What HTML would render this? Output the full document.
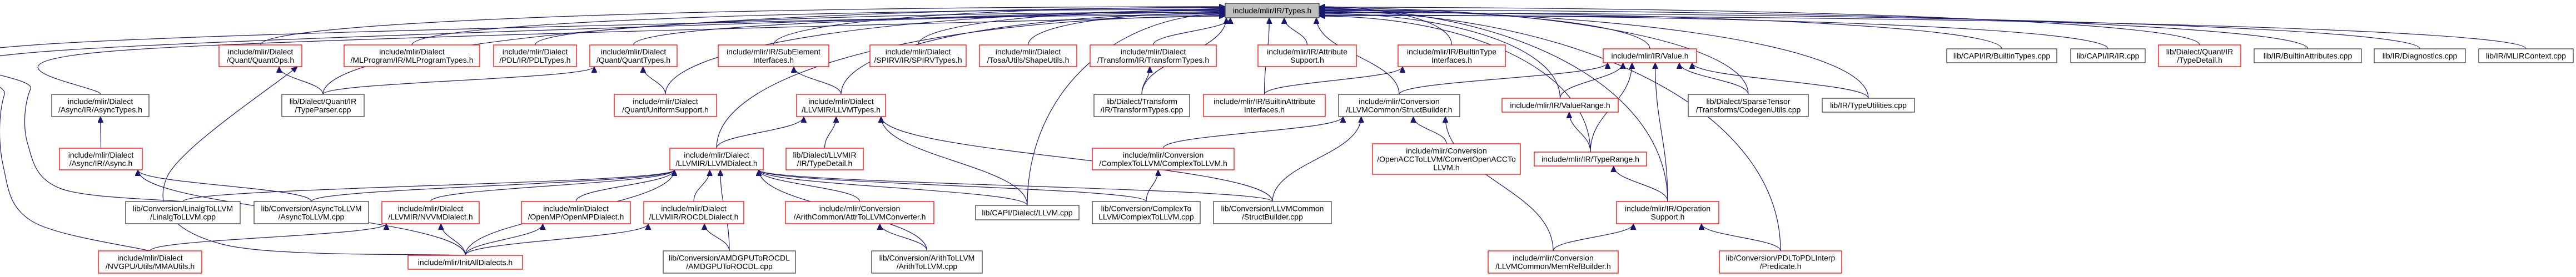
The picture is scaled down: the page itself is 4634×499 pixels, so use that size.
<!DOCTYPE html>
<html><head><meta charset="utf-8"><style>
html,body{margin:0;padding:0;background:#fff;}
svg{display:block;}
text{font-family:"Liberation Sans",sans-serif;font-size:14px;fill:#000;}
</style></head><body>
<svg id="g" width="4634" height="499" viewBox="0 0 4634 499" xmlns="http://www.w3.org/2000/svg">
<defs><marker id="ah" markerUnits="userSpaceOnUse" markerWidth="12" markerHeight="10" refX="11" refY="5" orient="auto"><path d="M0,0 L11,5 L0,10 z" fill="#191970" stroke="#191970"/></marker></defs>
<g id="edges"></g>
<g id="nodes"></g>
</svg>
<script>
// node: id, label lines, x1, y1, x2, y2, kind (r=red, k=black, g=root)
const nodeIds = ["root","quantops","mlprog","pdl","quanttypes","subel","spirv","shape","transT","attrsup","btypeif","value","capibt","capiir","qtd","battr","diag","ctx","asynct","typeparser","unif","llvmtypes","transcpp","battrif","structh","valrange","codegen","typeutil","async","llvmd","lltd","c2lh","oacc","typerange","linalg","asynccpp","nvvm","omp","rocdl","attr2llvm","capillvm","c2lcpp","structcpp","opsup","mma","initall","amdgpu","arith","memref","pred"];
const nodeLabels = [
["include/mlir/IR/Types.h"],["include/mlir/Dialect","/Quant/QuantOps.h"],["include/mlir/Dialect","/MLProgram/IR/MLProgramTypes.h"],["include/mlir/Dialect","/PDL/IR/PDLTypes.h"],["include/mlir/Dialect","/Quant/QuantTypes.h"],["include/mlir/IR/SubElement","Interfaces.h"],["include/mlir/Dialect","/SPIRV/IR/SPIRVTypes.h"],["include/mlir/Dialect","/Tosa/Utils/ShapeUtils.h"],["include/mlir/Dialect","/Transform/IR/TransformTypes.h"],["include/mlir/IR/Attribute","Support.h"],["include/mlir/IR/BuiltinType","Interfaces.h"],["include/mlir/IR/Value.h"],["lib/CAPI/IR/BuiltinTypes.cpp"],["lib/CAPI/IR/IR.cpp"],["lib/Dialect/Quant/IR","/TypeDetail.h"],["lib/IR/BuiltinAttributes.cpp"],["lib/IR/Diagnostics.cpp"],["lib/IR/MLIRContext.cpp"],
["include/mlir/Dialect","/Async/IR/AsyncTypes.h"],["lib/Dialect/Quant/IR","/TypeParser.cpp"],["include/mlir/Dialect","/Quant/UniformSupport.h"],["include/mlir/Dialect","/LLVMIR/LLVMTypes.h"],["lib/Dialect/Transform","/IR/TransformTypes.cpp"],["include/mlir/IR/BuiltinAttribute","Interfaces.h"],["include/mlir/Conversion","/LLVMCommon/StructBuilder.h"],["include/mlir/IR/ValueRange.h"],["lib/Dialect/SparseTensor","/Transforms/CodegenUtils.cpp"],["lib/IR/TypeUtilities.cpp"],
["include/mlir/Dialect","/Async/IR/Async.h"],["include/mlir/Dialect","/LLVMIR/LLVMDialect.h"],["lib/Dialect/LLVMIR","/IR/TypeDetail.h"],["include/mlir/Conversion","/ComplexToLLVM/ComplexToLLVM.h"],["include/mlir/Conversion","/OpenACCToLLVM/ConvertOpenACCTo","LLVM.h"],["include/mlir/IR/TypeRange.h"],
["lib/Conversion/LinalgToLLVM","/LinalgToLLVM.cpp"],["lib/Conversion/AsyncToLLVM","/AsyncToLLVM.cpp"],["include/mlir/Dialect","/LLVMIR/NVVMDialect.h"],["include/mlir/Dialect","/OpenMP/OpenMPDialect.h"],["include/mlir/Dialect","/LLVMIR/ROCDLDialect.h"],["include/mlir/Conversion","/ArithCommon/AttrToLLVMConverter.h"],["lib/CAPI/Dialect/LLVM.cpp"],["lib/Conversion/ComplexTo","LLVM/ComplexToLLVM.cpp"],["lib/Conversion/LLVMCommon","/StructBuilder.cpp"],["include/mlir/IR/Operation","Support.h"],
["include/mlir/Dialect","/NVGPU/Utils/MMAUtils.h"],["include/mlir/InitAllDialects.h"],["lib/Conversion/AMDGPUToROCDL","/AMDGPUToROCDL.cpp"],["lib/Conversion/ArithToLLVM","/ArithToLLVM.cpp"],["include/mlir/Conversion","/LLVMCommon/MemRefBuilder.h"],["lib/Conversion/PDLToPDLInterp","/Predicate.h"]];
const nodeBoxes = [
[2204,6,2373,32],[394,81,543,120],[619,81,863,120],[888,81,1037,120],[1061,81,1218,120],[1292,81,1491,120],[1565,81,1738,120],[1762,81,1937,120],[1961,81,2188,120],[2263,81,2440,120],[2515,81,2708,120],[2884,88,3052,113],[3502,88,3700,113],[3725,88,3859,113],[3883,81,4031,120],[4055,88,4248,113],[4271,88,4435,113],[4459,88,4629,113],
[93,170,268,210],[507,170,655,210],[1105,170,1289,210],[1433,170,1593,210],[1968,170,2140,210],[2165,170,2384,210],[2408,170,2626,210],[2702,177,2911,202],[3037,170,3253,210],[3278,177,3444,202],
[107,267,256,306],[1205,267,1373,306],[1414,267,1553,306],[1965,267,2220,306],[2469,259,2735,314],[2760,274,2962,299],
[226,363,432,403],[457,363,663,403],[687,363,862,403],[938,363,1134,403],[1158,363,1338,403],[1413,363,1680,403],[1755,370,1941,396],[1965,363,2159,403],[2183,363,2395,403],[2908,363,3092,403],
[177,452,363,492],[734,460,940,485],[1193,452,1431,492],[1568,452,1767,492],[2677,452,2911,492],[3093,452,3313,492]];
const nodeKinds = "gr"+"rrrrrrrrrrkkrkkk"+"kkrrkrkrkk"+"rrrrrr"+"kkrrrrkkkr"+"rrkkrr";
// edges: child -> parent
const edgeList = [
["quantops","root"],["mlprog","root"],["pdl","root"],["quanttypes","root"],["subel","root"],["spirv","root"],["shape","root"],["transT","root"],["attrsup","root"],["btypeif","root"],["value","root"],["capibt","root"],["capiir","root"],["qtd","root"],["battr","root"],["diag","root"],["ctx","root"],
["asynct","root"],["typeparser","root"],["unif","root"],["llvmtypes","root"],["transcpp","root"],["battrif","root"],["structh","root"],["codegen","root"],["typeutil","root"],["valrange","root"],
["llvmd","root"],["typerange","root"],["linalg","root"],["mma","root"],["opsup","root"],["pred","root"],["capillvm","root"],
["typeparser","quantops"],["initall","quantops"],["async","asynct"],["asynccpp","async"],["initall","async"],["asynccpp","llvmd"],["mma","nvvm"],["initall","nvvm"],["initall","omp"],["initall","rocdl"],["initall","llvmd"],
["typeparser","quanttypes"],["unif","quanttypes"],["llvmtypes","subel"],["llvmd","llvmtypes"],["lltd","llvmtypes"],["capillvm","llvmtypes"],["structcpp","llvmtypes"],
["nvvm","llvmd"],["omp","llvmd"],["rocdl","llvmd"],["attr2llvm","llvmd"],["amdgpu","rocdl"],["amdgpu","llvmd"],["arith","attr2llvm"],["arith","llvmd"],["c2lcpp","c2lh"],["c2lcpp","llvmd"],["linalg","llvmd"],["capillvm","llvmd"],["structcpp","llvmd"],
["transcpp","transT"],["battrif","btypeif"],["c2lh","structh"],["structh","value"],["oacc","structh"],["memref","structh"],["structcpp","structh"],["memref","opsup"],
["valrange","value"],["typerange","valrange"],["typerange","value"],["opsup","typerange"],["opsup","value"],["codegen","value"],["typeutil","value"],["pred","opsup"]];
// routing hints (waypoints) for a few long edges
const edgeVias = {"mma>root":[[60,400],[6,300],[8,170],[75,80]],"linalg>root":[[110,340],[50,260],[55,160],[120,90]],"asynct>root":[[230,90]],"initall>quantops":[[400,440],[300,320]]};

const NS="http://www.w3.org/2000/svg";
const svg=document.getElementById('g'), eg=document.getElementById('edges'), ng=document.getElementById('nodes');
const idx={}; nodeIds.forEach((id,i)=>idx[id]=i);
function box(id){const b=nodeBoxes[idx[id]];return {x1:b[0],y1:b[1],x2:b[2],y2:b[3],cx:(b[0]+b[2])/2};}
function crPath(p){let d="M"+p[0][0]+","+p[0][1];for(let i=0;i<p.length-1;i++){const p0=p[Math.max(0,i-1)],p1=p[i],p2=p[i+1],p3=p[Math.min(p.length-1,i+2)];
const c1=[p1[0]+(p2[0]-p0[0])/6,p1[1]+(p2[1]-p0[1])/6],c2=[p2[0]-(p3[0]-p1[0])/6,p2[1]-(p3[1]-p1[1])/6];
d+=" C"+c1[0]+","+c1[1]+" "+c2[0]+","+c2[1]+" "+p2[0]+","+p2[1];}return d;}
let li=0, ri=0;
edgeList.forEach(([c,p])=>{
  const C=box(c),P=box(p); let d, sx=C.cx, sy=C.y1;
  let ex,ey,side=false;
  if(p==="root"){
    if(Math.abs(C.cx-2288)<250){ex=2288+(C.cx-2288)*0.35;ey=32;}
    else if(C.cx<2288){ex=2204;ey=12+(li*5)%19;li++;side=true;}
    else {ex=2373;ey=12+(ri*5)%19;ri++;side=true;}
  } else {
    ex=P.cx+(C.cx-P.cx)*0.3; ex=Math.max(P.x1+8,Math.min(P.x2-8,ex)); ey=P.y2;
  }
  const key=c+">"+p;
  if(edgeVias[key]){ d=crPath([[sx,sy]].concat(edgeVias[key],[[ex,ey]])); }
  else if(side){ d="M"+sx+","+sy+" C"+sx+","+(sy-(sy-ey)*0.6)+" "+(ex+(sx-ex)*0.55)+","+ey+" "+ex+","+ey; }
  else { const dy=sy-ey; d="M"+sx+","+sy+" C"+sx+","+(sy-dy*0.45)+" "+ex+","+(ey+dy*0.45)+" "+ex+","+ey; }
  const path=document.createElementNS(NS,'path');
  path.setAttribute('d',d);path.setAttribute('fill','none');path.setAttribute('stroke','#191970');path.setAttribute('stroke-width','1.2');path.setAttribute('marker-end','url(#ah)');
  
  
  eg.appendChild(path);
});
nodeIds.forEach((id,i)=>{
  const b=nodeBoxes[i],k=nodeKinds[i],lines=nodeLabels[i];
  const grp=document.createElementNS(NS,'g');
  
  
  const r=document.createElementNS(NS,'rect');
  r.setAttribute('x',b[0]);r.setAttribute('y',b[1]);r.setAttribute('width',b[2]-b[0]);r.setAttribute('height',b[3]-b[1]);
  r.setAttribute('fill',k==='g'?'#bfbfbf':'#fff');r.setAttribute('stroke',k==='r'?'#ff0000':'#404040');r.setAttribute('stroke-width','1.3');
  grp.appendChild(r);
  const cx=(b[0]+b[2])/2, cy=(b[1]+b[3])/2, lh=15, y0=cy-(lines.length-1)*lh/2;
  lines.forEach((t,j)=>{const tx=document.createElementNS(NS,'text');
    tx.setAttribute('x',cx);tx.setAttribute('y',y0+j*lh+5);tx.setAttribute('text-anchor','middle');tx.textContent=t;
    
    
    grp.appendChild(tx);});
  ng.appendChild(grp);
});
</script>
</body></html>
